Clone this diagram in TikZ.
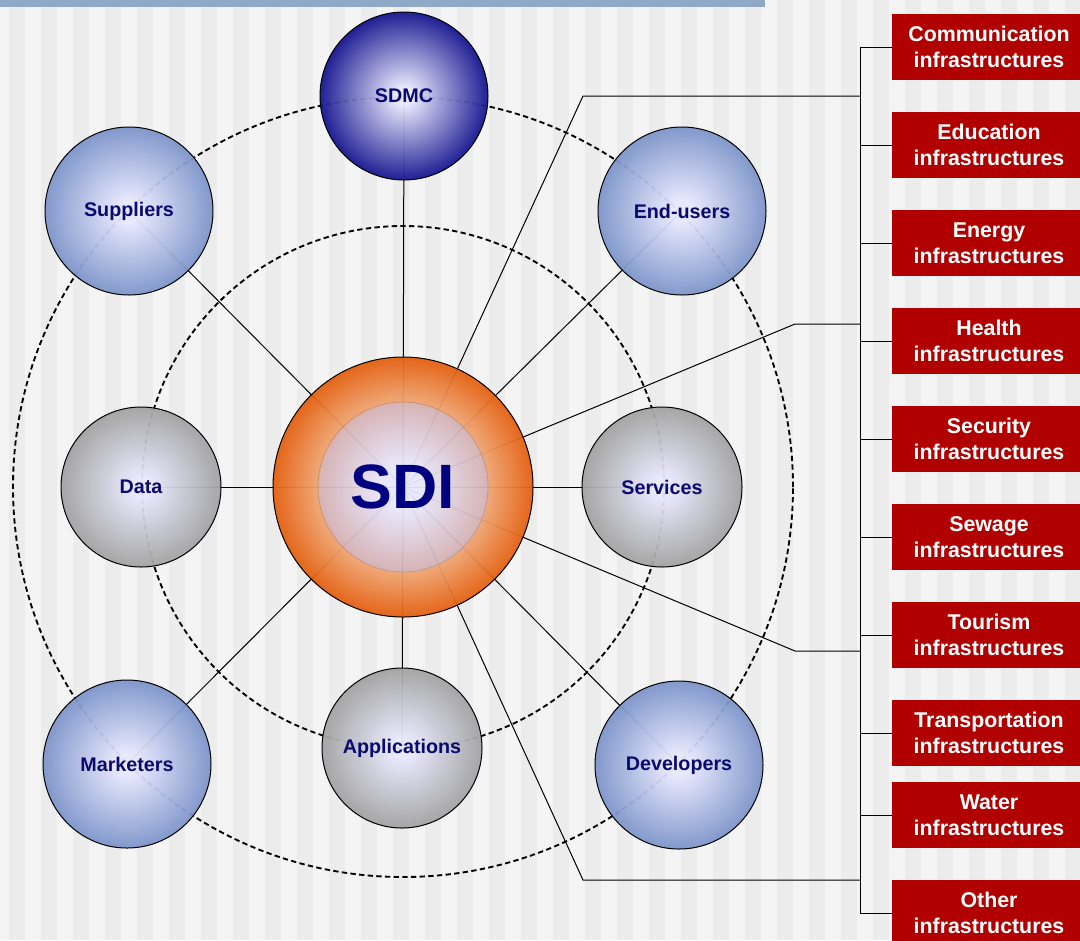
\documentclass[tikz,border=0pt]{standalone}
\usepackage{fontspec}
\setmainfont{Liberation Sans}
\usepackage{tikz}

\definecolor{stripelight}{HTML}{F4F4F4}
\definecolor{stripedark}{HTML}{ECECEC}
\definecolor{barblue}{HTML}{8EAAC6}
\definecolor{infrared}{HTML}{B00000}
\definecolor{labelblue}{HTML}{0A0A6E}
\definecolor{sdiblue}{HTML}{000080}
\definecolor{ballcore}{HTML}{E9E9FF}
\definecolor{balledge}{HTML}{7C94CA}
\definecolor{greyedge}{HTML}{A2A2A2}
\definecolor{navyedge}{HTML}{13138F}
\definecolor{sdimid}{HTML}{D5B1B3}
\definecolor{sdiring}{HTML}{F0A471}
\definecolor{sdiedge}{HTML}{E45E0D}

\pgfdeclareradialshading{blueball}{\pgfpoint{0bp}{0bp}}{color(0bp)=(ballcore); color(3bp)=(ballcore); color(25bp)=(balledge); color(50bp)=(balledge)}
\pgfdeclareradialshading{navyball}{\pgfpoint{0bp}{0bp}}{color(0bp)=(ballcore); color(2.5bp)=(ballcore); color(25bp)=(navyedge); color(50bp)=(navyedge)}
\pgfdeclareradialshading{greyball}{\pgfpoint{0bp}{0bp}}{color(0bp)=(ballcore); color(3bp)=(ballcore); color(25bp)=(greyedge); color(50bp)=(greyedge)}
\pgfdeclareradialshading{sdiball}{\pgfpoint{0bp}{0bp}}{color(0bp)=(ballcore); color(4bp)=(ballcore); color(16.2bp)=(sdimid); color(16.4bp)=(sdiring); color(25bp)=(sdiedge); color(50bp)=(sdiedge)}

\pgfdeclarelayer{bg}
\pgfsetlayers{bg,main}

\begin{document}
\begin{tikzpicture}
	[x=0.75pt, y=-0.75pt,
	ball node/.style={circle, draw=black, line width=0.75pt, inner sep=0pt, fill opacity=0.94, text opacity=1, text=labelblue, font=\fontsize{14.8}{16}\selectfont\bfseries},
	blue node/.style={ball node, minimum size=126pt, shading=blueball},
	navy node/.style={ball node, minimum size=126pt, shading=navyball},
	grey node/.style={ball node, minimum size=120pt, shading=greyball},
	sdi node/.style={ball node, minimum size=195pt, shading=sdiball, text=sdiblue, font=\fontsize{47}{50}\selectfont\bfseries},
	infra node/.style={rectangle, fill=infrared, text=white, minimum width=145.5pt, minimum height=49.5pt, inner sep=0pt, align=center, font=\fontsize{16}{19.5}\selectfont\bfseries},
	link/.style={black, line width=0.75pt},
	ring/.style={black, line width=1.4pt, dash pattern=on 4pt off 2.5pt}]

	\useasboundingbox (0,0) rectangle (1080,940);

	%striped background and top bar
	\begin{pgfonlayer}{bg}
		\fill[stripelight] (0,0) rectangle (1080,940);
		\foreach \k in {0,1,...,33}{
			\fill[stripedark] (9+32*\k,0) rectangle ++(16,940);
		}
		\fill[barblue] (0,0) rectangle (765,7);
	\end{pgfonlayer}

	%centre and the balls round it
	\node[sdi node] (sdi) at (403,487) {SDI};
	\draw[sdimid!60!black, line width=0.5pt, opacity=0.4] (sdi.center) circle[radius=63.75pt];
	\node[navy node] (sdmc) at (404,96) {SDMC};
	\foreach \name/\lbl/\x/\y in {suppliers/Suppliers/129/211, endusers/End-users/682/211, marketers/Marketers/127/764, developers/Developers/679/765}{
		\node[blue node] (\name) at (\x,\y) {\lbl};
	}
	\foreach \name/\lbl/\x/\y in {data/Data/141/487, services/Services/662/487, apps/Applications/402/748}{
		\node[grey node] (\name) at (\x,\y) {\lbl};
	}

	%infrastructure boxes
	\foreach \name/\lbl/\y in {comm/Communication/47, edu/Education/145, energy/Energy/243, health/Health/341, security/Security/439, sewage/Sewage/537, tourism/Tourism/635, transport/Transportation/733, water/Water/815, other/Other/913}{
		\node[infra node] (\name) at (989,\y) {\lbl\\infrastructures};
	}

	\coordinate (bus) at (860,0);
	\coordinate (k1) at (583,96);
	\coordinate (k2) at (795,324);
	\coordinate (k3) at (795,651);
	\coordinate (k4) at (583,880);

	\begin{pgfonlayer}{bg}
		%dashed rings
		\draw[ring] (sdi.center) circle[radius=195.75pt];
		\draw[ring] (sdi.center) circle[radius=292.5pt];
		%spokes
		\foreach \name in {sdmc,suppliers,endusers,data,services,apps,marketers,developers}{
			\draw[link] (sdi.center) -- (\name.center);
		}
		%lines to the bus
		\foreach \k in {k1,k2,k3,k4}{
			\draw[link] (sdi.center) -- (\k) -- (\k -| bus);
		}
	\end{pgfonlayer}

	\draw[link] (comm.west -| bus) -- (other.west -| bus);
	\foreach \name in {comm,edu,energy,health,security,sewage,tourism,transport,water,other}{
		\draw[link] (\name.west -| bus) -- (\name.west);
	}
\end{tikzpicture}
\end{document}
